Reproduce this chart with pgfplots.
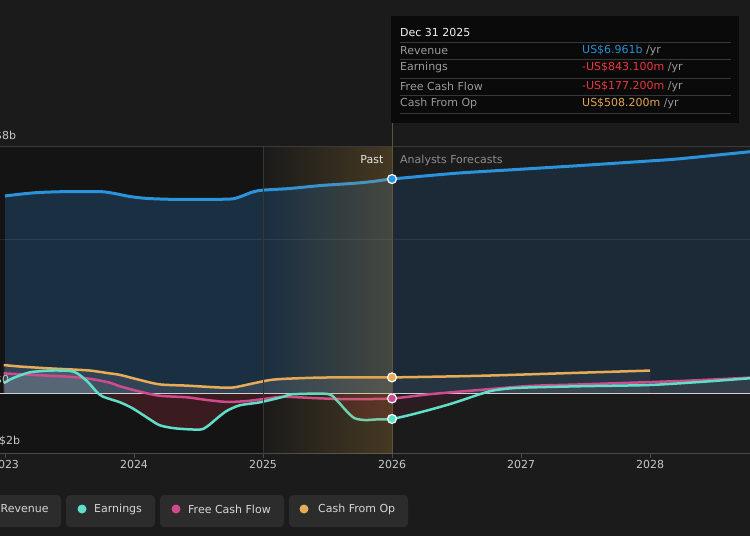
\documentclass[border=0pt]{standalone}
\usepackage{pgfplots}
\pgfplotsset{compat=1.18}
\usepackage{fontspec}
\setmainfont{DejaVu Sans}
\definecolor{bg}{HTML}{1B1B1B}
\definecolor{pastbg}{HTML}{141414}
\definecolor{revc}{HTML}{2A93DC}
\definecolor{revpast}{HTML}{1A2F42}
\definecolor{revfut}{HTML}{1C2A37}
\definecolor{earnc}{HTML}{5EE0C8}
\definecolor{fcfc}{HTML}{D04A8E}
\definecolor{cfoc}{HTML}{E8AC58}
\definecolor{redpast}{HTML}{3A1B1F}
\definecolor{redfut}{HTML}{2A1C21}
\definecolor{axisc}{HTML}{4A4A4A}
\definecolor{tickc}{HTML}{C8C8C8}
\definecolor{zeroc}{HTML}{D0D0D0}
\definecolor{gridc}{HTML}{3A3A3A}
\definecolor{bandc}{HTML}{C18F3A}
\definecolor{tipbg}{HTML}{0A0A0A}
\definecolor{tiplab}{HTML}{9A9A9A}
\definecolor{tipsep}{HTML}{383838}
\definecolor{revtxt}{HTML}{2B8ED3}
\definecolor{redtxt}{HTML}{E8383D}
\definecolor{orgtxt}{HTML}{E3A64F}
\definecolor{legbg}{HTML}{2C2C2C}
\definecolor{legtxt}{HTML}{D6D6D6}
\definecolor{vline}{HTML}{5E5340}
\definecolor{vline2}{HTML}{3B362C}
\begin{document}
\fontsize{11}{13}\selectfont
\begin{tikzpicture}[x=1pt,y=1pt]
\useasboundingbox (0,0) rectangle (750,536);
\clip (0,0) rectangle (750,536);
\fill[bg] (0,0) rectangle (750,536);
\fill[pastbg] (0,82) rectangle (263,389);
\begin{axis}[at={(0pt,82pt)}, anchor=south west, scale only axis,
  width=750pt, height=307pt,
  xmin=2022.9612, xmax=2028.7752, ymin=-1.984, ymax=8.003,
  axis x line*=bottom, axis y line=none,
  x axis line style={draw=axisc, line width=1pt, -},
  xtick={2023,2024,2025,2026,2027,2028},
  xticklabels={2023,2024,2025,2026,2027,2028},
  ytick=\empty,
  tick align=outside, major tick length=4pt,
  xtick style={draw=axisc, line width=1pt},
  x tick label style={font=\fontsize{11}{13}\selectfont, text=tickc, yshift=1.5pt},
  /pgf/number format/assume math mode=true,
  every axis plot/.append style={smooth, tension=0.45}]
% Revenue fills
\addplot[draw=none, fill=revpast] coordinates {
(2023.00,6.41)(2023.10,6.46)(2023.25,6.52)(2023.45,6.55)(2023.60,6.55)(2023.75,6.55)
(2023.85,6.49)(2023.97,6.39)(2024.10,6.33)(2024.30,6.30)(2024.55,6.30)(2024.75,6.31)
(2024.82,6.38)(2024.92,6.54)(2025.00,6.60)(2025.20,6.65)(2025.45,6.75)(2025.70,6.82)
(2025.85,6.88)(2026.00,6.961)} \closedcycle;
\addplot[draw=none, fill=revfut] coordinates {
(2026.00,6.961)(2026.50,7.15)(2027.00,7.28)(2027.46,7.40)(2028.00,7.55)(2028.23,7.62)(2028.775,7.85)} \closedcycle;
% CFO fills
\addplot[draw=none, fill=white, fill opacity=0.10] coordinates {
(2022.99,0.91)(2023.12,0.86)(2023.35,0.80)(2023.50,0.77)(2023.66,0.73)(2023.81,0.64)
(2023.89,0.59)(2024.05,0.42)(2024.20,0.28)(2024.41,0.24)(2024.66,0.18)(2024.77,0.18)
(2024.92,0.31)(2025.05,0.42)(2025.16,0.46)(2025.42,0.50)(2025.70,0.51)(2026.00,0.508)} \closedcycle;
\addplot[draw=none, fill=white, fill opacity=0.05] coordinates {
(2026.00,0.508)(2026.68,0.56)(2027.46,0.66)(2028.00,0.73)} \closedcycle;
% FCF positive fills
\addplot[draw=none, fill=white, fill opacity=0.07] coordinates {
(2022.99,0.64)(2023.12,0.61)(2023.35,0.56)(2023.50,0.53)(2023.66,0.46)(2023.81,0.34)
(2023.89,0.22)(2024.05,0.04)(2024.08,0)} \closedcycle;
\addplot[draw=none, fill=white, fill opacity=0.06] coordinates {
(2026.35,0)(2026.68,0.1)(2027.07,0.23)(2027.46,0.28)(2028.23,0.39)(2028.775,0.5)} \closedcycle;
% Earnings fills
\addplot[draw=none, fill=white, fill opacity=0.12] coordinates {
(2022.99,0.32)(2023.06,0.48)(2023.19,0.67)(2023.35,0.73)(2023.50,0.72)(2023.56,0.64)
(2023.64,0.37)(2023.71,0.04)(2023.72,0)} \closedcycle;
\addplot[draw=none, fill=redpast] coordinates {
(2023.72,0)(2023.76,-0.12)(2023.89,-0.30)(2023.99,-0.50)(2024.12,-0.85)(2024.20,-1.05)
(2024.32,-1.15)(2024.51,-1.19)(2024.57,-1.08)(2024.65,-0.80)(2024.72,-0.58)(2024.82,-0.40)
(2024.98,-0.30)(2025.16,-0.12)(2025.23,-0.04)(2025.50,-0.03)(2025.57,-0.23)(2025.65,-0.60)
(2025.71,-0.82)(2025.79,-0.88)(2025.88,-0.86)(2026.00,-0.843)} \closedcycle;
\addplot[draw=none, fill=redfut] coordinates {
(2026.00,-0.843)(2026.19,-0.66)(2026.45,-0.36)(2026.71,0)} \closedcycle;
\addplot[draw=none, fill=white, fill opacity=0.04] coordinates {
(2026.71,0)(2026.81,0.10)(2026.99,0.17)(2027.46,0.22)(2027.99,0.26)(2028.39,0.36)(2028.775,0.48)} \closedcycle;
% grid lines
\addplot[white, opacity=0.08, line width=1pt, sharp plot] coordinates {(2022.9,5)(2028.8,5)};
\addplot[zeroc, line width=1pt, sharp plot] coordinates {(2022.9,0)(2028.8,0)};
% lines
\addplot[cfoc, line width=2.5pt] coordinates {
(2022.99,0.91)(2023.12,0.86)(2023.35,0.80)(2023.50,0.77)(2023.66,0.73)(2023.81,0.64)
(2023.89,0.59)(2024.05,0.42)(2024.20,0.28)(2024.41,0.24)(2024.66,0.18)(2024.77,0.18)
(2024.92,0.31)(2025.05,0.42)(2025.16,0.46)(2025.42,0.50)(2025.70,0.51)(2026.00,0.508)
(2026.68,0.56)(2027.46,0.66)(2028.00,0.73)};
\addplot[fcfc, line width=2.5pt] coordinates {
(2022.99,0.64)(2023.12,0.61)(2023.35,0.56)(2023.50,0.53)(2023.66,0.46)(2023.81,0.34)
(2023.89,0.22)(2024.05,0.04)(2024.20,-0.09)(2024.41,-0.14)(2024.57,-0.23)(2024.72,-0.29)
(2024.88,-0.26)(2025.05,-0.17)(2025.16,-0.12)(2025.42,-0.17)(2025.67,-0.20)(2026.00,-0.177)
(2026.29,-0.04)(2026.68,0.10)(2027.07,0.23)(2027.46,0.28)(2028.23,0.39)(2028.775,0.50)};
\addplot[earnc, line width=2.5pt] coordinates {
(2022.99,0.32)(2023.06,0.48)(2023.19,0.67)(2023.35,0.73)(2023.50,0.72)(2023.56,0.64)
(2023.64,0.37)(2023.71,0.04)(2023.76,-0.12)(2023.89,-0.30)(2023.99,-0.50)(2024.12,-0.85)
(2024.20,-1.05)(2024.32,-1.15)(2024.51,-1.19)(2024.57,-1.08)(2024.65,-0.80)(2024.72,-0.58)
(2024.82,-0.40)(2024.98,-0.30)(2025.16,-0.12)(2025.23,-0.04)(2025.50,-0.03)(2025.57,-0.23)
(2025.65,-0.60)(2025.71,-0.82)(2025.79,-0.88)(2025.88,-0.86)(2026.00,-0.843)
(2026.19,-0.66)(2026.45,-0.36)(2026.71,0)(2026.81,0.10)(2026.99,0.17)(2027.46,0.22)
(2027.99,0.26)(2028.39,0.36)(2028.775,0.48)};
\addplot[revc, line width=3pt] coordinates {
(2023.00,6.41)(2023.10,6.46)(2023.25,6.52)(2023.45,6.55)(2023.60,6.55)(2023.75,6.55)
(2023.85,6.49)(2023.97,6.39)(2024.10,6.33)(2024.30,6.30)(2024.55,6.30)(2024.75,6.31)
(2024.82,6.38)(2024.92,6.54)(2025.00,6.60)(2025.20,6.65)(2025.45,6.75)(2025.70,6.82)
(2025.85,6.88)(2026.00,6.961)(2026.50,7.15)(2027.00,7.28)(2027.46,7.40)(2028.00,7.55)
(2028.23,7.62)(2028.775,7.85)};
\end{axis}
% band overlay
\foreach \i in {0,...,42} {
  \pgfmathsetmacro\op{0.26*(\i+0.5)/43}
  \fill[bandc, fill opacity=\op] ({263+\i*3},82) rectangle ({263+(\i+1)*3},389);
}
\draw[gridc, line width=1pt] (0,389) -- (750,389);
\draw[vline2, line width=1pt] (263,82) -- (263,389);
\draw[vline, line width=1pt] (392,82) -- (392,413);
% markers
\begin{axis}[at={(0pt,82pt)}, anchor=south west, scale only axis,
  width=750pt, height=307pt,
  xmin=2022.9612, xmax=2028.7752, ymin=-1.984, ymax=8.003,
  hide axis, clip=false]
\addplot[only marks, mark=*, mark size=4.5pt, mark options={fill=revc, draw=white, line width=1.2pt}] coordinates {(2026,6.961)};
\addplot[only marks, mark=*, mark size=4.5pt, mark options={fill=cfoc, draw=white, line width=1.2pt}] coordinates {(2026,0.508)};
\addplot[only marks, mark=*, mark size=4.5pt, mark options={fill=fcfc, draw=white, line width=1.2pt}] coordinates {(2026,-0.177)};
\addplot[only marks, mark=*, mark size=4.5pt, mark options={fill=earnc, draw=white, line width=1.2pt}] coordinates {(2026,-0.843)};
\end{axis}
% y labels
\node[anchor=west, inner sep=0, text=tickc] at (-20,400) {US\$8b};
\node[anchor=west, inner sep=0, text=tickc] at (-20,155.5) {US\$0};
\node[anchor=west, inner sep=0, text=tickc] at (-20,94.5) {-US\$2b};
% Past / forecasts
\node[anchor=east, inner sep=0, text=white!90!black] at (383.5,376) {Past};
\node[anchor=west, inner sep=0, text=white!55!black] at (400,376) {Analysts Forecasts};
% tooltip
\fill[tipbg] (391,520) rectangle (739,413);
\node[anchor=west, inner sep=0, text=white!94!black] at (400,504) {Dec 31 2025};
\foreach \yy in {493.7,476.7,458,440.7,422.3} {\draw[tipsep, line width=0.8pt] (400,\yy) -- (731,\yy);}
\node[anchor=west, inner sep=0, text=tiplab] at (400,485.3) {Revenue};
\node[anchor=west, inner sep=0, text=tiplab] at (400,468.3) {Earnings};
\node[anchor=west, inner sep=0, text=tiplab] at (400,450) {Free Cash Flow};
\node[anchor=west, inner sep=0, text=tiplab] at (400,433) {Cash From Op};
\node[anchor=west, inner sep=0] at (582,485.3) {\textcolor{revtxt}{US\$6.961b} \textcolor{tiplab}{/yr}};
\node[anchor=west, inner sep=0] at (582,468.3) {\textcolor{redtxt}{-US\$843.100m} \textcolor{tiplab}{/yr}};
\node[anchor=west, inner sep=0] at (582,450) {\textcolor{redtxt}{-US\$177.200m} \textcolor{tiplab}{/yr}};
\node[anchor=west, inner sep=0] at (582,433) {\textcolor{orgtxt}{US\$508.200m} \textcolor{tiplab}{/yr}};
% legend
\fill[legbg, rounded corners=4pt] (-20,9) rectangle (61,41);
\fill[legbg, rounded corners=4pt] (66,9) rectangle (155,41);
\fill[legbg, rounded corners=4pt] (160,9) rectangle (284,41);
\fill[legbg, rounded corners=4pt] (289,9) rectangle (408,41);
\fill[earnc] (82,27) circle (4.5);
\fill[fcfc] (176,27) circle (4.5);
\fill[cfoc] (304,27) circle (4.5);
\node[anchor=west, inner sep=0, text=legtxt] at (0.5,27) {Revenue};
\node[anchor=west, inner sep=0, text=legtxt] at (94,27) {Earnings};
\node[anchor=west, inner sep=0, text=legtxt] at (188,27) {Free Cash Flow};
\node[anchor=west, inner sep=0, text=legtxt] at (318,27) {Cash From Op};
\end{tikzpicture}
\end{document}
